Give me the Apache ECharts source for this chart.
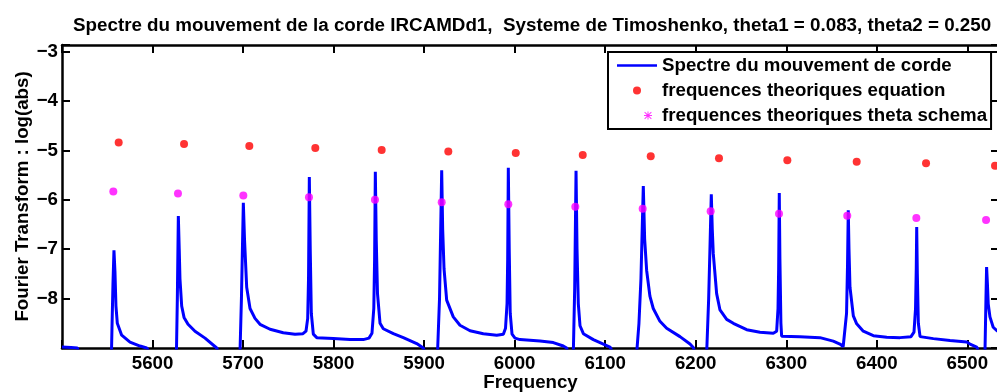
<!DOCTYPE html>
<html><head><meta charset="utf-8">
<script src="https://cdn.jsdelivr.net/npm/echarts@6/dist/echarts.min.js"></script>
<style>html,body{margin:0;padding:0;background:#fff}#c{width:997px;height:392px}</style>
</head><body><div id="c"></div>
<script>
const titleText = 'Spectre du mouvement de la corde IRCAMDd1,  Systeme de Timoshenko, theta1 = 0.083, theta2 = 0.250';
const xAxisName = 'Frequency';
const yAxisName = 'Fourier Transform : log(abs)';
const seriesNames = ['Spectre du mouvement de corde', 'frequences theoriques equation', 'frequences theoriques theta schema'];
const xTickValues = [5600, 5700, 5800, 5900, 6000, 6100, 6200, 6300, 6400, 6500];
const yTickValues = [-8, -7, -6, -5, -4, -3];

// spectrum: [frequency, log(abs)]  (values below -9 are off-scale)
const spectrum = [
  [5500,-8.98],[5510,-8.99],[5517,-9.0],[5520,-9.2],[5530,-10],[5553.5,-10],
  [5554.1,-9.6],[5555.2,-8.6],[5556.3,-7.7],[5557.4,-7.02],[5558.5,-7.45],[5559.6,-8.15],[5561.1,-8.5],[5565.9,-8.74],[5575.1,-8.88],[5586.2,-8.96],[5593.6,-9.0],[5597.2,-9.1],[5610,-10],
  [5620,-10],[5625.5,-9.5],[5626.5,-9.0],[5627.4,-8.0],[5628.5,-6.33],[5629.5,-7.0],[5630.3,-7.6],[5632.2,-8.15],[5634.8,-8.38],[5639.2,-8.52],[5646.9,-8.66],[5658.0,-8.8],[5670.9,-9.0],[5674.5,-9.15],[5685,-10],
  [5690,-10],[5696.6,-9.1],[5698.2,-8.0],[5700.3,-6.06],[5701.6,-6.8],[5704.0,-7.77],[5707.7,-8.2],[5713.2,-8.4],[5718.7,-8.52],[5729.8,-8.62],[5744.4,-8.69],[5757.4,-8.72],[5766.2,-8.71],[5769.5,-8.66],[5771.4,-8.4],[5772.3,-7.6],[5773.2,-5.54],
  [5774.2,-7.0],[5775.4,-8.3],[5777.6,-8.72],[5781.4,-8.79],[5799.7,-8.81],[5818.1,-8.83],[5832.8,-8.83],[5839.1,-8.8],[5842.4,-8.7],[5844.4,-8.2],[5845.3,-7.2],[5846.1,-5.43],
  [5847.1,-6.8],[5848.5,-7.9],[5851.3,-8.5],[5854.9,-8.61],[5866.0,-8.71],[5877.0,-8.79],[5891.8,-8.91],[5899.1,-9.0],[5902.1,-9.15],[5908,-10],
  [5912,-10],[5914.8,-9.1],[5917.0,-8.0],[5919.4,-5.40],[5920.5,-6.6],[5922.0,-7.4],[5924.9,-8.03],[5932.2,-8.37],[5939.6,-8.54],[5950.7,-8.65],[5965.4,-8.71],[5980.2,-8.74],[5987.5,-8.72],[5989.9,-8.6],[5991.6,-8.1],[5992.3,-7.2],[5993.0,-5.35],
  [5994.0,-7.0],[5995.1,-8.3],[5997.1,-8.72],[6000.4,-8.8],[6005.9,-8.83],[6028.0,-8.86],[6042.7,-8.89],[6053.7,-8.96],[6057.5,-9.0],[6060.0,-9.2],[6062,-10],
  [6063.5,-10],[6064.8,-9.1],[6066.3,-7.8],[6067.8,-5.41],[6068.9,-7.0],[6070.3,-8.1],[6072.2,-8.55],[6075.9,-8.71],[6086.9,-8.83],[6094.3,-8.89],[6105.3,-8.98],[6108.6,-9.1],[6115,-10],
  [6130,-10],[6134.8,-9.1],[6137.3,-8.5],[6139.5,-7.6],[6142.1,-5.72],[6143.6,-6.8],[6145.8,-7.43],[6149.4,-7.95],[6153.1,-8.2],[6160.5,-8.46],[6167.9,-8.6],[6182.6,-8.77],[6193.7,-8.92],[6197.3,-8.99],[6200.3,-9.15],[6205,-10],
  [6209,-10],[6212.1,-9.1],[6214.3,-8.0],[6215.7,-7.0],[6217.2,-5.89],[6218.3,-6.6],[6219.4,-7.09],[6223.1,-7.9],[6226.8,-8.23],[6234.2,-8.42],[6241.5,-8.5],[6256.3,-8.63],[6271.0,-8.68],[6285.7,-8.7],[6289.4,-8.66],[6290.9,-8.2],[6291.6,-7.4],[6292.3,-5.86],
  [6293.0,-7.2],[6294.1,-8.5],[6294.9,-8.76],[6315.1,-8.77],[6337.2,-8.79],[6351.9,-8.86],[6359.3,-8.92],[6362.9,-8.97],[6363.8,-9.0],[6366.6,-8.3],[6367.7,-7.3],[6368.5,-6.21],
  [6369.3,-7.0],[6370.4,-7.77],[6374.1,-8.35],[6377.8,-8.51],[6385.1,-8.66],[6396.2,-8.75],[6411.0,-8.78],[6425.7,-8.79],[6437.8,-8.77],[6441.1,-8.68],[6442.8,-8.2],[6443.6,-7.4],[6444.1,-6.55],
  [6444.8,-7.5],[6445.9,-8.5],[6447.8,-8.77],[6462.5,-8.81],[6480.9,-8.85],[6499.3,-8.88],[6503.0,-8.92],[6510.4,-8.98],[6513.0,-9.1],[6516,-10],
  [6518.5,-10],[6519.5,-9.1],[6520.6,-8.0],[6521.3,-7.36],[6522.2,-7.7],[6523.1,-8.11],[6525.0,-8.37],[6528.6,-8.58],[6532.7,-8.65],[6536,-8.68]
];

const eqFreq = [5562.6, 5634.8, 5706.9, 5779.8, 5853.1, 5926.7, 6001.2, 6075.2, 6150.3, 6225.7, 6301.2, 6377.8, 6454.4, 6530.6];
const eqLogAbs = [-4.84, -4.87, -4.91, -4.95, -4.99, -5.02, -5.05, -5.09, -5.12, -5.16, -5.20, -5.23, -5.26, -5.31];
const thetaFreq = [5556.7, 5628.1, 5700.3, 5772.8, 5845.7, 5919.4, 5993.0, 6067.0, 6141.4, 6216.5, 6292.0, 6367.4, 6443.7, 6520.7];
const thetaLogAbs = [-5.83, -5.87, -5.91, -5.95, -6.00, -6.05, -6.09, -6.14, -6.18, -6.23, -6.28, -6.32, -6.37, -6.41];

const FONT = 'Liberation Sans';
const FS = 18.7;
const near = (a, b) => Math.abs(a - b) < 1e-6;
const fmtNum = v => String(v).replace('-', '\u2212');

const axisCommon = {
  type: 'value',
  axisLine: { show: true, onZero: false, lineStyle: { color: '#000', width: 2.5 } },
  axisTick: { show: true, inside: true, length: 8, lineStyle: { color: '#000', width: 2 } },
  splitLine: { show: false }
};

const chart = echarts.init(document.getElementById('c'), null, { renderer: 'canvas' });
chart.setOption({
  animation: false,
  backgroundColor: '#fff',
  title: {
    text: titleText,
    left: 68, top: 11,
    textStyle: { fontFamily: FONT, fontWeight: 'bold', fontSize: 18.8, color: '#000' }
  },
  grid: { left: 62, top: 45, right: -2, bottom: 44, containLabel: false, outerBoundsMode: 'none' },
  legend: {
    orient: 'vertical',
    left: 608, top: 52,
    backgroundColor: '#fff',
    borderColor: '#000', borderWidth: 2, borderRadius: 0,
    padding: [4, 4, 4, 9],
    itemGap: 6, itemWidth: 40, itemHeight: 8,
    textStyle: { fontFamily: FONT, fontWeight: 'bold', fontSize: FS, lineHeight: 18, color: '#000' },
    data: [
      { name: seriesNames[0], icon: 'path://M0,0h40v2.5h-40z' },
      { name: seriesNames[1], icon: 'circle' },
      { name: seriesNames[2], icon: 'path://M-27.5,5h0.01v0.01h-0.01z M4.4,0h1.2v10h-1.2z M0,4.4h10v1.2h-10z M1.2,0.4l8.4,8.4l-0.8,0.8l-8.4,-8.4z M8.8,0.4l0.8,0.8l-8.4,8.4l-0.8,-0.8z' }
    ]
  },
  xAxis: [
    Object.assign({}, axisCommon, {
      position: 'bottom', min: 5500, max: 6535, interval: 100,
      name: xAxisName, nameLocation: 'middle', nameGap: 25, nameMoveOverlap: false,
      nameTextStyle: { fontFamily: FONT, fontWeight: 'bold', fontSize: FS, color: '#000' },
      axisLabel: {
        margin: 6, fontFamily: FONT, fontWeight: 'bold', fontSize: FS, color: '#000',
        showMinLabel: true, showMaxLabel: true, hideOverlap: false,
        formatter: v => xTickValues.some(t => near(t, v)) ? String(v) : ''
      }
    }),
    Object.assign({}, axisCommon, {
      position: 'top', min: 5500, max: 6535, interval: 100,
      axisLabel: { show: false }
    })
  ],
  yAxis: [
    Object.assign({}, axisCommon, {
      position: 'left', min: -9, max: -2.865, interval: 1,
      name: yAxisName, nameLocation: 'middle', nameGap: 30, nameRotate: 90, nameMoveOverlap: false,
      nameTextStyle: { fontFamily: FONT, fontWeight: 'bold', fontSize: FS, color: '#000' },
      axisLabel: {
        margin: 4, fontFamily: FONT, fontWeight: 'bold', fontSize: FS, color: '#000',
        showMinLabel: true, showMaxLabel: true, hideOverlap: false,
        formatter: v => yTickValues.some(t => near(t, v)) ? fmtNum(v) : ''
      }
    }),
    Object.assign({}, axisCommon, {
      position: 'right', min: -9, max: -2.865, interval: 1,
      axisLabel: { show: false }
    })
  ],
  series: [
    {
      name: seriesNames[0], type: 'line', xAxisIndex: 0, yAxisIndex: 0,
      data: spectrum, symbol: 'none', clip: true,
      lineStyle: { color: '#0000ff', width: 3 }, itemStyle: { color: '#0000ff' }, z: 3
    },
    {
      name: seriesNames[1], type: 'scatter', xAxisIndex: 0, yAxisIndex: 0,
      data: eqFreq.map((f, i) => [f, eqLogAbs[i]]), symbol: 'circle', symbolSize: 8,
      itemStyle: { color: '#ff0000' }, z: 4
    },
    {
      name: seriesNames[2], type: 'scatter', xAxisIndex: 0, yAxisIndex: 0,
      data: thetaFreq.map((f, i) => [f, thetaLogAbs[i]]), symbol: 'circle', symbolSize: 8,
      itemStyle: { color: '#ff00ff' }, z: 5
    }
  ]
});
</script></body></html>
